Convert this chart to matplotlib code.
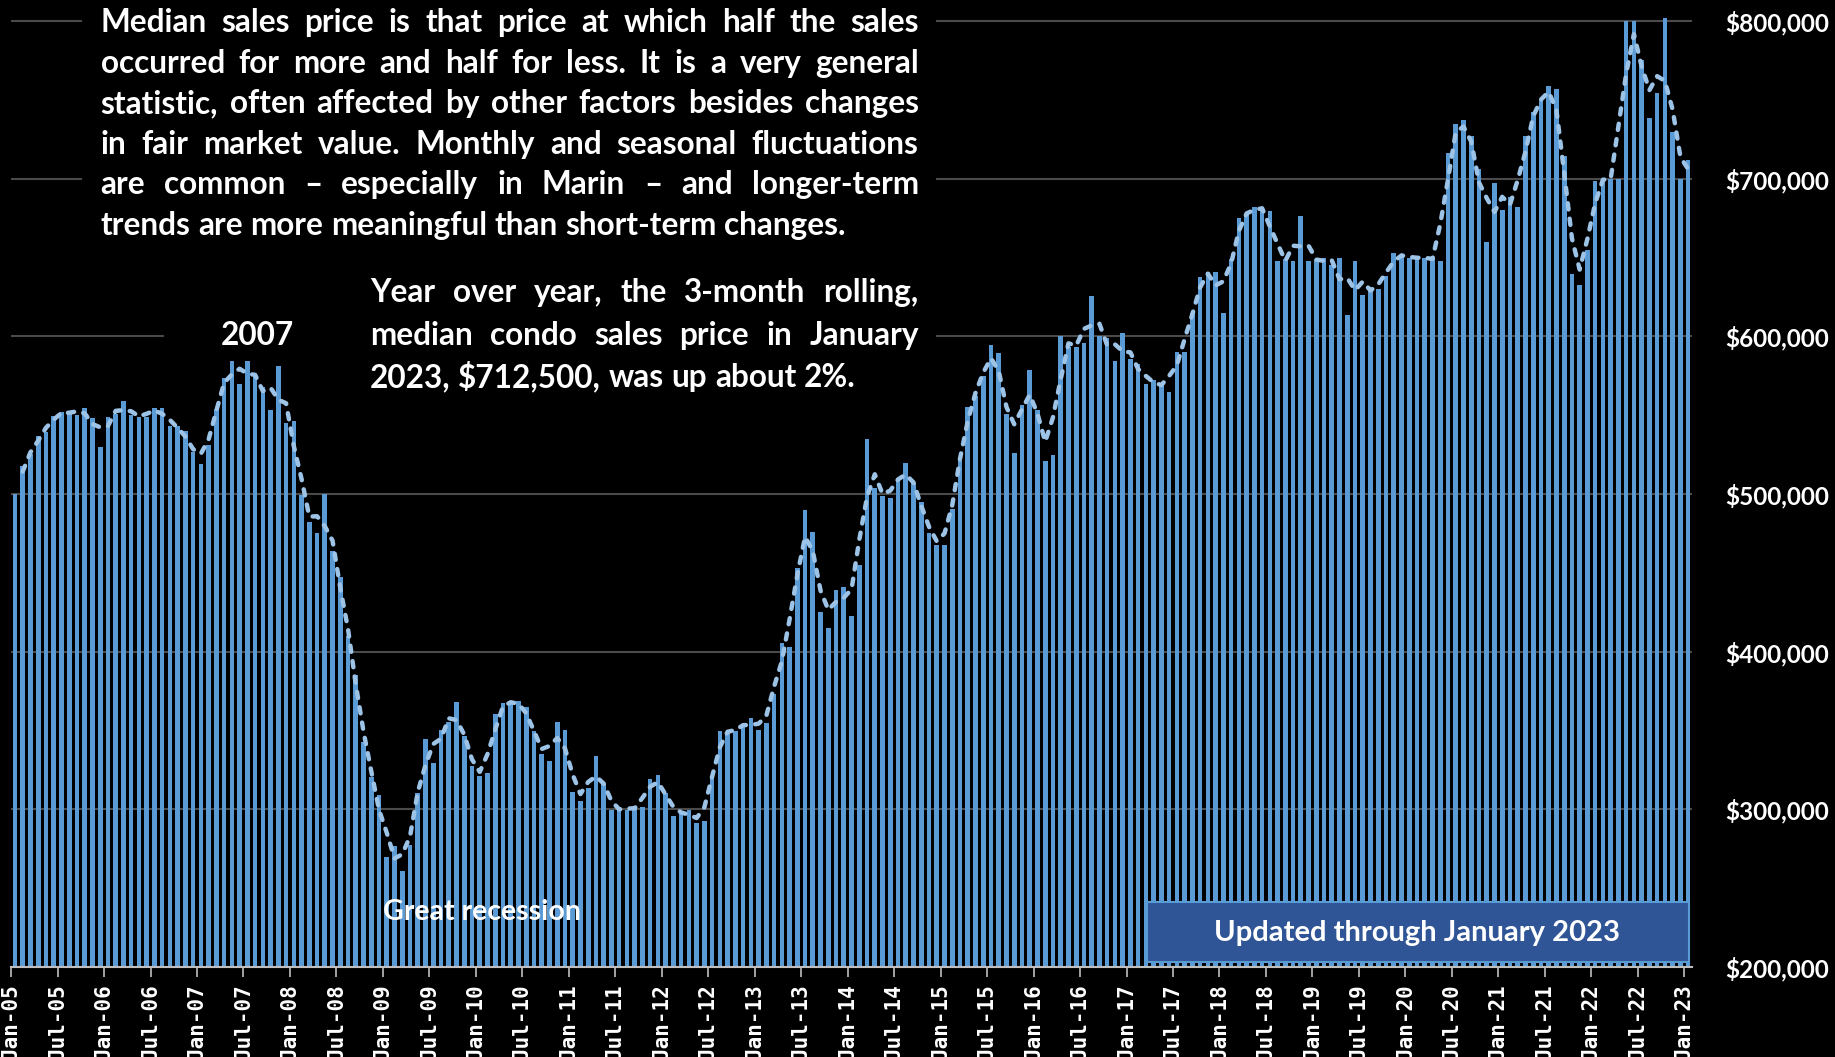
import numpy as np
import pandas as pd
import matplotlib
matplotlib.use('Agg')
import matplotlib.pyplot as plt
from matplotlib.patches import Rectangle

###Taille de l'image en pixels (dpi 100)
W, H = 1835, 1057

###Prix médian mensuel des condos (en milliers de $), jan 2005 -> jan 2023
median_k = [
    500.0, 517.6, 525.2, 536.7, 539.6, 549.8, 552.3, 552.3, 550.2, 554.9, 548.5, 529.9,   # 2005
    548.7, 550.8, 558.9, 550.0, 548.7, 549.2, 554.9, 554.9, 543.0, 543.2, 539.8, 526.5,   # 2006
    519.1, 531.1, 554.0, 573.5, 584.3, 569.9, 584.3, 574.8, 567.8, 553.4, 581.1, 545.1,   # 2007
    546.6, 499.4, 482.6, 475.2, 500.0, 463.6, 447.7, 410.0, 385.0, 342.6, 320.3, 309.3,   # 2008
    269.5, 276.5, 260.6, 277.5, 310.4, 344.9, 329.2, 350.2, 355.1, 368.0, 346.8, 327.3,   # 2009
    321.0, 323.1, 360.8, 367.6, 367.6, 368.6, 364.8, 349.4, 335.0, 330.5, 355.1, 350.2,   # 2010
    310.8, 305.1, 313.3, 333.7, 315.9, 299.4, 300.8, 299.8, 300.8, 301.5, 319.5, 322.0,   # 2011
    310.4, 295.6, 298.7, 299.8, 291.3, 292.4, 320.3, 349.6, 348.5, 349.6, 352.8, 357.8,   # 2012
    350.2, 355.0, 373.0, 405.5, 403.0, 453.0, 490.0, 475.8, 425.4, 415.0, 439.2, 440.9,   # 2013
    422.7, 455.3, 535.2, 504.0, 498.5, 497.7, 510.4, 519.7, 507.2, 495.1, 475.4, 467.4,   # 2014
    467.4, 490.3, 521.2, 555.5, 561.9, 575.0, 594.3, 589.2, 550.6, 525.8, 556.4, 579.0,   # 2015
    553.6, 520.8, 525.0, 600.0, 593.4, 593.4, 595.6, 625.4, 600.0, 598.7, 584.3, 601.9,   # 2016
    585.6, 582.2, 570.0, 572.5, 569.9, 565.0, 590.0, 590.0, 615.1, 637.4, 641.0, 641.0,   # 2017
    615.1, 648.8, 675.0, 677.0, 682.0, 682.0, 679.8, 647.6, 648.8, 647.6, 676.2, 647.6,   # 2018
    648.8, 649.9, 645.0, 649.9, 613.8, 647.6, 626.5, 630.4, 630.4, 638.4, 652.7, 651.6,   # 2019
    649.9, 649.9, 649.9, 649.9, 647.6, 716.3, 734.8, 737.4, 727.2, 706.2, 659.7, 697.2,   # 2020
    680.0, 688.5, 682.1, 727.0, 742.4, 749.4, 758.9, 757.2, 714.5, 639.8, 632.4, 655.0,   # 2021
    698.4, 699.9, 699.9, 699.9, 800.0, 800.0, 775.2, 738.8, 754.5, 802.0, 729.7, 699.9,   # 2022
    712.2,                                                                               # 2023
]
y_ticks = [200000, 300000, 400000, 500000, 600000, 700000, 800000]

texte_gauche = [
    "Median sales price is that price at which half the sales",
    "occurred for more and half for less. It is a very general",
    "statistic, often affected by other factors besides changes",
    "in fair market value. Monthly and seasonal fluctuations",
    "are common \u2013 especially in Marin \u2013 and longer-term",
    "trends are more meaningful than short-term changes.",
]
texte_droite = [
    "Year over year, the 3-month rolling,",
    "median condo sales price in January",
    "2023, $712,500, was up about 2%.",
]

###Préparation des données
mois = pd.date_range('2005-01-01', periods=len(median_k), freq='MS')
prix = np.array(median_k) * 1000
idx = np.arange(len(prix))
roulant = pd.Series(prix).rolling(3, center=True, min_periods=2).mean()

plt.rcParams['font.family'] = ['Lato', 'DejaVu Sans']


def fx(x):
    return x / W


def fy(y):
    return 1 - y / H


###Figure
fig = plt.figure(figsize=(W / 100, H / 100), dpi=100, facecolor='black')
ax = fig.add_axes([fx(11.1), fy(967), (1692 - 11.1) / W, (967 - 17.2) / H])
ax.set_facecolor('black')

ax.bar(idx, prix, width=0.6, color='#5b9bd5', zorder=2)
ax.plot(idx[1:], roulant.values[1:], color='#9dc3e6', lw=3.2,
        linestyle=(0, (1.4, 2.1)), dash_capstyle='round', zorder=3)

ax.set_xlim(-0.5, len(prix) - 0.5)
ax.set_ylim(200000, 802500)

ax.set_axisbelow(True)
ax.yaxis.grid(True, color='#4a4a4a', lw=1.5)
ax.set_yticks(y_ticks)
ax.set_yticklabels([f"${v:,.0f}" for v in y_ticks])
ax.yaxis.tick_right()
ax.tick_params(axis='y', length=0, pad=24, labelsize=17.5, labelcolor='white')
for lab in ax.get_yticklabels():
    lab.set_fontweight('bold')

pos = idx[::6]
ax.set_xticks(pos - 0.5)
ax.set_xticklabels([m.strftime('%b-%y') for m in mois[::6]], rotation=90,
                   family='DejaVu Sans Mono', fontweight='bold', fontsize=15, color='white')
ax.tick_params(axis='x', length=7, width=1.2, color='#bfbfbf', pad=5)

for s in ['top', 'left', 'right']:
    ax.spines[s].set_visible(False)
ax.spines['bottom'].set_color('#bfbfbf')
ax.spines['bottom'].set_linewidth(1.5)

###Masques noirs derrière les textes
for (x0, y0, x1, y1) in [(82, 0, 936, 245), (164, 318, 936, 350)]:
    fig.add_artist(Rectangle((fx(x0), fy(y1)), (x1 - x0) / W, (y1 - y0) / H,
                             transform=fig.transFigure, facecolor='black',
                             edgecolor='none', zorder=1))

###Texte justifié
rend = fig.canvas.get_renderer()


def largeur(s, taille):
    t = fig.text(0, 0, s, fontsize=taille, fontweight='bold')
    w = t.get_window_extent(rend).width
    t.remove()
    return w


def texte_justifie(lignes, x0, x1, y_base, dy, taille):
    esp = largeur('a a', taille) - largeur('aa', taille)
    for k, ligne in enumerate(lignes):
        mots = ligne.split(' ')
        yb = fy(y_base + k * dy)
        objs = [fig.text(0, yb, m, color='white', fontsize=taille, fontweight='bold',
                         va='baseline', ha='left', zorder=5) for m in mots]
        larg = [o.get_window_extent(rend).width for o in objs]
        if k == len(lignes) - 1:
            gap = esp
        else:
            gap = (x1 - x0 - sum(larg)) / (len(mots) - 1)
        x = x0
        for o, l in zip(objs, larg):
            o.set_x(fx(x))
            x += l + gap


# taille de police ajustée pour que les lignes tiennent dans la largeur
taille = 24
ratio = 1.0
for lignes, x0, x1 in [(texte_gauche, 100.6, 918.7), (texte_droite, 370, 918.7)]:
    for ligne in lignes[:-1]:
        w = largeur(ligne, taille)
        ratio = min(ratio, (x1 - x0) * 0.97 / w)
taille = taille * ratio

texte_justifie(texte_gauche, 100.6, 918.7, 32, 40.6, taille)
texte_justifie(texte_droite, 370, 918.7, 302, 42.5, taille)

fig.text(fx(257.5), fy(345), "2007", color='white', fontsize=taille, fontweight='bold',
         ha='center', va='baseline', zorder=5)
fig.text(fx(482), fy(912), "Great recession", color='white', fontsize=20.5, fontweight='bold',
         ha='center', va='center', zorder=5)

###Encadré de mise à jour
fig.add_artist(Rectangle((fx(1147), fy(962)), (1689 - 1147) / W, (962 - 902) / H,
                         transform=fig.transFigure, facecolor='#2f5597',
                         edgecolor='#5b9bd5', lw=1.5, zorder=4))
fig.text(fx(1417), fy(933), "Updated through January 2023", color='white', fontsize=21,
         fontweight='bold', ha='center', va='center', zorder=5)

plt.savefig('out.png', dpi=100, facecolor='black')
plt.close()
